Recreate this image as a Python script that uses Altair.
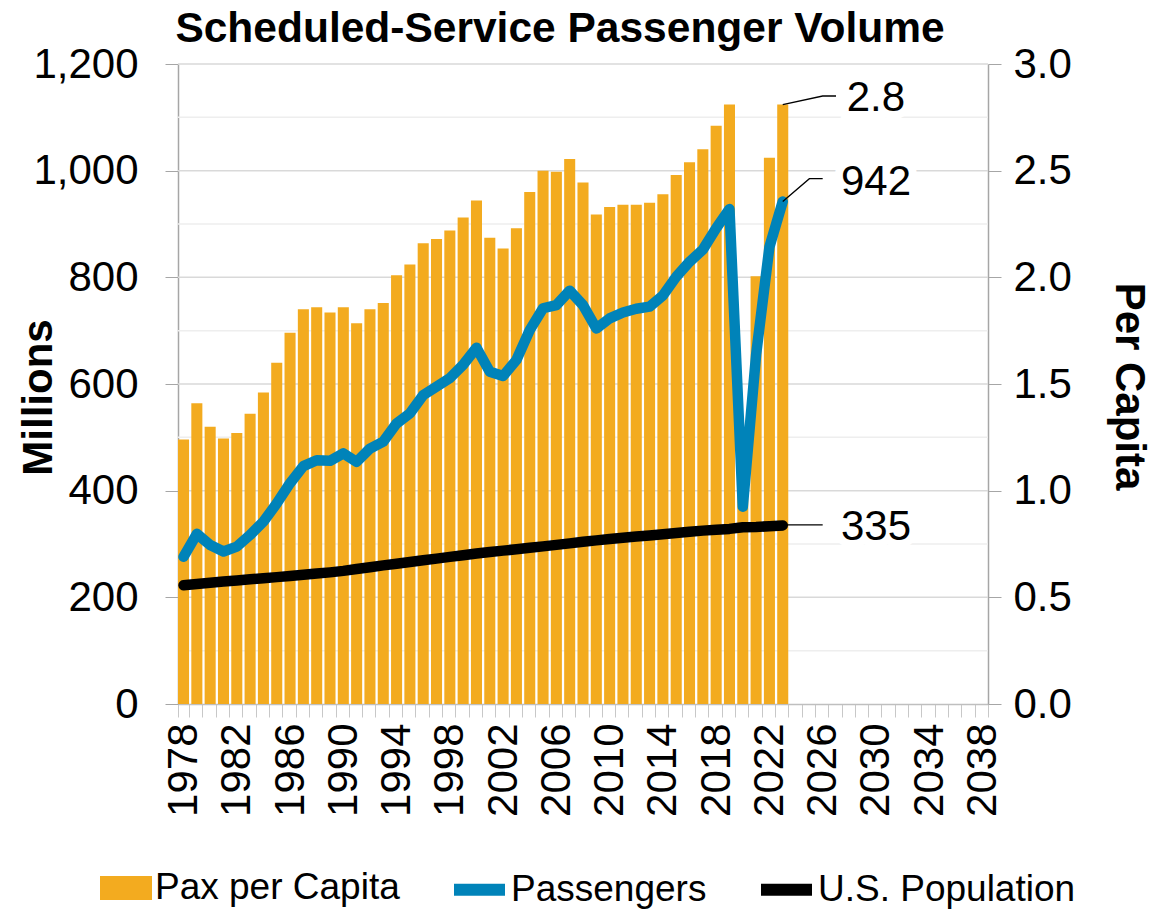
import altair as alt
import pandas as pd

FONT = "Liberation Sans, Arial, sans-serif"

years = list(range(1978, 2024))
all_years = list(range(1978, 2039))

pax_per_capita = [1.24, 1.41, 1.30, 1.245, 1.27, 1.36, 1.46, 1.60, 1.74, 1.85,
                  1.86, 1.835, 1.86, 1.785, 1.85, 1.88, 2.01, 2.06, 2.16, 2.18,
                  2.22, 2.28, 2.36, 2.185, 2.135, 2.23, 2.40, 2.50, 2.495, 2.555,
                  2.445, 2.295, 2.33, 2.34, 2.34, 2.35, 2.39, 2.48, 2.54, 2.60,
                  2.71, 2.81, 1.11, 2.005, 2.56, 2.81]

passengers = [276, 319, 298, 286, 295, 317, 342, 376, 414, 446,
              457, 456, 470, 454, 479, 492, 526, 545, 579, 595,
              611, 636, 668, 623, 615, 645, 701, 742, 748, 775,
              748, 704, 723, 734, 741, 745, 766, 801, 829, 852,
              892, 928, 370, 655, 857, 942]

population = [222.6, 225.1, 227.2, 229.5, 231.7, 233.8, 235.8, 237.9, 240.1, 242.3,
              244.5, 246.8, 249.6, 253.0, 256.5, 259.9, 263.1, 266.3, 269.4, 272.6,
              275.9, 279.0, 282.2, 285.0, 287.6, 290.1, 292.8, 295.5, 298.4, 301.2,
              304.1, 306.8, 309.3, 311.6, 313.9, 316.1, 318.4, 320.7, 323.1, 325.1,
              326.8, 328.3, 331.5, 332.0, 333.3, 334.9]

left_ticks = [0, 200, 400, 600, 800, 1000, 1200]
grid_values = [100, 200, 300, 400, 500, 600, 700, 800, 900, 1000, 1100, 1200]
grid_kind = ["minor", "major", "minor", "major", "minor", "major",
             "minor", "major", "minor", "major", "minor", "major"]

# end-of-series annotations
ann_text = ["2.8", "942", "335"]
ann_value = [1136, 979, 332]
ann_year = [2030, 2030, 2030]

# leader lines (year, value) per annotation
leader_group = ["a", "a", "a", "b", "b", "b", "c", "c"]
leader_year = [2023, 2026, 2027, 2023, 2025, 2026, 2023, 2026]
leader_value = [1124, 1140, 1140, 942, 985, 985, 336, 336]

bars_df = pd.DataFrame({"year": years, "value": pax_per_capita, "series": "Pax per Capita"})
lines_df = pd.concat([
    pd.DataFrame({"year": years, "value": passengers, "series": "Passengers"}),
    pd.DataFrame({"year": years, "value": population, "series": "U.S. Population"}),
])
ann_df = pd.DataFrame({"year": ann_year, "value": ann_value, "text": ann_text})
lead_df = pd.DataFrame({"year": leader_year, "value": leader_value, "grp": leader_group})
grid_df = pd.DataFrame({"value": grid_values, "kind": grid_kind})

ORANGE = "#F3AB1F"
BLUE = "#0083B9"
BLACK = "#000000"

x_scale = alt.Scale(domain=all_years, paddingInner=0.17, paddingOuter=0)

x_enc = alt.X(
    "year:O",
    scale=x_scale,
    axis=alt.Axis(
        title=None,
        labelAngle=270,
        labelExpr="(datum.value - 1978) % 4 == 0 ? datum.label : ''",
        labelFontSize=42,
        labelFont=FONT,
        labelColor="#000000",
        labelPadding=6,
        labelOverlap=False,
        tickBand="extent",
        tickSize=13,
        tickColor="#c8c8c8",
        domainColor="#bfbfbf",
        domainWidth=1.5,
        grid=False,
    ),
)

left_scale = alt.Scale(domain=[0, 1200], nice=False)

grid = alt.Chart(grid_df).mark_rule(strokeWidth=1.5).encode(
    y=alt.Y("value:Q", scale=left_scale, axis=None),
    color=alt.Color("kind:N", scale=alt.Scale(domain=["major", "minor"], range=["#d9d9d9", "#eeeeee"]), legend=None),
)

bars = alt.Chart(bars_df).mark_bar(width={"band": 1}).encode(
    x=x_enc,
    y=alt.Y(
        "value:Q",
        scale=alt.Scale(domain=[0, 3], nice=False),
        axis=alt.Axis(
            orient="right",
            title="Per Capita",
            titleFontSize=42,
            titleFont=FONT,
            titleFontWeight="bold",
            titleColor="#000000",
            titleAngle=90,
            titleX=140,
            titleY=322,
            titleBaseline="middle",
            titleAlign="center",
            values=[0, 0.5, 1.0, 1.5, 2.0, 2.5, 3.0],
            format=".1f",
            labelFontSize=42,
            labelFont=FONT,
            labelColor="#000000",
            labelPadding=12,
            tickSize=13,
            tickColor="#a6a6a6",
            domainColor="#a6a6a6",
            domainWidth=1.5,
            grid=False,
        ),
    ),
    fill=alt.Fill(
        "series:N",
        scale=alt.Scale(domain=["Pax per Capita"], range=[ORANGE]),
        legend=alt.Legend(
            title=None,
            orient="none",
            legendX=-78,
            legendY=798,
            symbolType="M-1,-0.46H1V0.46H-1Z",
            symbolSize=2704,
            symbolStrokeWidth=0,
            labelFontSize=37,
            labelFont=FONT,
            labelColor="#000000",
            labelOffset=3,
            labelLimit=0,
            padding=0,
        ),
    ),
)

lines = alt.Chart(lines_df).mark_line(strokeWidth=10.5, strokeCap="round", strokeJoin="round").encode(
    x=alt.X("year:O", scale=x_scale),
    y=alt.Y(
        "value:Q",
        scale=left_scale,
        axis=alt.Axis(
            orient="left",
            title="Millions",
            titleFontSize=42,
            titleFont=FONT,
            titleFontWeight="bold",
            titleColor="#000000",
            titleAngle=270,
            titleX=-140,
            titleY=333,
            titleBaseline="middle",
            titleAlign="center",
            values=left_ticks,
            format=",.0f",
            labelFontSize=42,
            labelFont=FONT,
            labelColor="#000000",
            labelPadding=27,
            tickSize=13,
            tickColor="#a6a6a6",
            domainColor="#a6a6a6",
            domainWidth=1.5,
            grid=False,
        ),
    ),
    stroke=alt.Stroke(
        "series:N",
        scale=alt.Scale(domain=["Passengers", "U.S. Population"], range=[BLUE, BLACK]),
        legend=alt.Legend(
            title=None,
            orient="none",
            direction="horizontal",
            legendX=270,
            legendY=794,
            symbolType="stroke",
            symbolSize=2601,
            symbolStrokeWidth=12,
            labelFontSize=37,
            labelFont=FONT,
            labelColor="#000000",
            labelOffset=0,
            labelLimit=0,
            columnPadding=30,
            padding=0,
        ),
    ),
)

leaders = alt.Chart(lead_df).mark_line(color="#000000", strokeWidth=1.3).encode(
    x=alt.X("year:O", scale=x_scale),
    y=alt.Y("value:Q", scale=left_scale, axis=None),
    detail="grp:N",
)

ann_bg = alt.Chart(ann_df).mark_text(
    fontSize=42, font=FONT, stroke="white", strokeWidth=16, fill="white",
    align="center", baseline="middle"
).encode(
    x=alt.X("year:O", scale=x_scale),
    y=alt.Y("value:Q", scale=left_scale, axis=None),
    text="text:N",
)

ann = alt.Chart(ann_df).mark_text(
    fontSize=42, font=FONT, color="#000000", align="center", baseline="middle"
).encode(
    x=alt.X("year:O", scale=x_scale),
    y=alt.Y("value:Q", scale=left_scale, axis=None),
    text="text:N",
)

chart = alt.layer(grid, bars, lines, leaders, ann_bg, ann).resolve_scale(
    y="independent", color="independent", fill="independent", stroke="independent"
).properties(
    width=810,
    height=640,
    padding={"left": 170, "top": 56, "right": 175, "bottom": 205},
    autosize=alt.AutoSizeParams(type="none"),
    title=alt.TitleParams(
        "Scheduled-Service Passenger Volume",
        fontSize=42.5,
        font=FONT,
        fontWeight="bold",
        color="#000000",
        anchor="middle",
        frame="group",
        dx=-23,
        dy=31,
        offset=24,
    ),
    background="white",
).configure_view(stroke=None)

chart.save("out.html", embed_options={"renderer": "svg", "actions": False})
